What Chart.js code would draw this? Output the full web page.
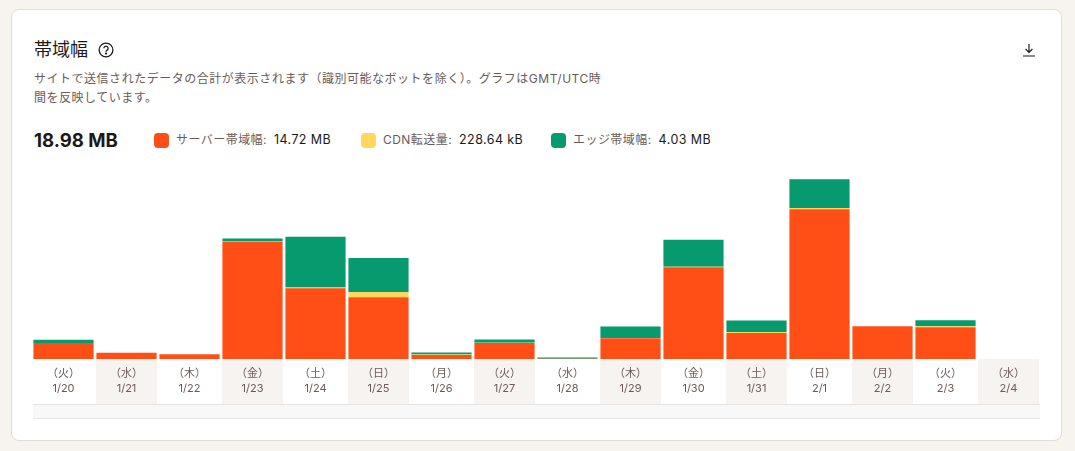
<!DOCTYPE html>
<html lang="ja">
<head>
<meta charset="utf-8">
<title>帯域幅</title>
<script src="https://cdn.jsdelivr.net/npm/chart.js@4"></script>
<style>
    html, body { margin: 0; height: 100%; background: #f7f3ef; overflow: hidden; }
    body { font-family: Inter, "Noto Sans CJK JP", sans-serif; color: #1c1917; }
    .abs { position: absolute; white-space: nowrap; }
    .card { left: 11px; top: 9px; width: 1049px; height: 430px; background: #fff; border: 1px solid #e6ddd4; border-radius: 8px; }
    .title { left: 34px; top: 37px; font-size: 18px; line-height: 26px; }
    .desc { left: 34px; top: 69px; font-size: 12px; line-height: 19px; color: #6b5b58; letter-spacing: 0.52px; }
    .total { left: 34px; top: 128px; font-size: 18.6px; line-height: 24px; font-weight: 700; }
    .legend { top: 130px; font-size: 12px; line-height: 20px; color: #6b5b58; letter-spacing: 0.45px; }
    .legend b { font-size: 12.5px; font-weight: 400; color: #1c1917; margin-left: 7px; letter-spacing: 0.42px; }
    .swatch { top: 133px; width: 15px; height: 15px; border-radius: 4px; }
    .strip { left: 33px; top: 404px; width: 1007px; height: 13px; background: #f8f8f8; border-top: 1px solid #e4e4e4; border-bottom: 1px solid #e8e8e8; }
    .chart-size { position: absolute; left: 32px; top: 159px; width: 1008px; height: 245px; }
</style>
</head>
<body>
<div class="abs card"></div>
<div class="abs title">帯域幅</div>
<svg class="abs" style="left:98px;top:42px" width="16" height="16" viewBox="0 0 16 16" fill="none" stroke="#1c1917" stroke-width="1.3">
    <circle cx="8" cy="8" r="6.9"/>
    <path d="M5.9 6.3a2.1 2.1 0 1 1 3.2 1.8c-.7.4-1.1.8-1.1 1.6"/>
    <circle cx="8" cy="11.6" r=".5" fill="#1c1917"/>
</svg>
<svg class="abs" style="left:1022px;top:43px" width="14" height="14" viewBox="0 0 14 14" fill="none" stroke="#1c1917" stroke-width="1.15">
    <path d="M7 1v8M3.6 6 7 9.4 10.4 6M1 13h12"/>
</svg>
<div class="abs desc">サイトで送信されたデータの合計が表示されます（識別可能なボットを除く）。グラフはGMT/UTC時<br>間を反映しています。</div>
<div class="abs total">18.98 MB</div>
<div class="abs swatch" style="left:154px;background:#ff4f17"></div>
<div class="abs legend" style="left:176px">サーバー帯域幅:<b>14.72 MB</b></div>
<div class="abs swatch" style="left:361px;background:#ffd75c"></div>
<div class="abs legend" style="left:383px">CDN転送量:<b>228.64 kB</b></div>
<div class="abs swatch" style="left:551px;background:#069a6e"></div>
<div class="abs legend" style="left:573px">エッジ帯域幅:<b>4.03 MB</b></div>
<div class="abs strip"></div>
<div class="chart-size"><canvas id="bandwidth"></canvas></div>
<script>
    const weekdays = ['（火）', '（水）', '（木）', '（金）', '（土）', '（日）', '（月）', '（火）', '（水）', '（木）', '（金）', '（土）', '（日）', '（月）', '（火）', '（水）'];
    const dates = ['1/20', '1/21', '1/22', '1/23', '1/24', '1/25', '1/26', '1/27', '1/28', '1/29', '1/30', '1/31', '2/1', '2/2', '2/3', '2/4'];
    // MB per day
    const serverBandwidth = [0.36, 0.14, 0.11, 2.66, 1.60, 1.40, 0.09, 0.36, 0.005, 0.47, 2.08, 0.59, 3.39, 0.74, 0.72, 0];
    const cdnTransfer = [0.005, 0, 0, 0.01, 0.02, 0.12, 0.01, 0.01, 0, 0.005, 0.01, 0.02, 0.03, 0, 0.02, 0];
    const edgeBandwidth = [0.07, 0, 0, 0.06, 1.15, 0.77, 0.05, 0.07, 0.03, 0.26, 0.61, 0.26, 0.65, 0, 0.14, 0];

    // alternate day columns get a tinted background under the tick labels
    const dayBands = {
        id: 'dayBands',
        beforeDraw(chart) {
            const { ctx, scales: { x }, chartArea, height } = chart;
            ctx.save();
            ctx.fillStyle = '#f7f3f0';
            dates.forEach((d, i) => {
                if (i % 2 === 1) {
                    ctx.fillRect(x.getPixelForValue(i) - 30.5, chartArea.bottom, 61, height - chartArea.bottom);
                }
            });
            ctx.restore();
        }
    };

    new Chart(document.getElementById('bandwidth'), {
        type: 'bar',
        data: {
            labels: dates.map((d, i) => [weekdays[i], d]),
            datasets: [
                { label: 'サーバー帯域幅', data: serverBandwidth, backgroundColor: '#ff4f17' },
                { label: 'CDN転送量', data: cdnTransfer, backgroundColor: '#ffd75c' },
                { label: 'エッジ帯域幅', data: edgeBandwidth, backgroundColor: '#069a6e' }
            ]
        },
        options: {
            responsive: true,
            maintainAspectRatio: false,
            animation: false,
            layout: { padding: 0 },
            datasets: { bar: { barPercentage: 0.955, categoryPercentage: 1 } },
            plugins: { legend: { display: false }, tooltip: { enabled: false } },
            scales: {
                x: {
                    stacked: true,
                    grid: { display: false, drawTicks: false },
                    border: { display: false },
                    afterFit(scale) { scale.height = 45; },
                    ticks: {
                        padding: 7,
                        maxRotation: 0,
                        autoSkip: false,
                        color: '#6b5b58',
                        font: { family: 'Inter, "Noto Sans CJK JP", sans-serif', size: 11, lineHeight: 1.4 }
                    }
                },
                y: { stacked: true, display: false, min: 0, max: 4.53 }
            }
        },
        plugins: [dayBands]
    });
</script>
</body>
</html>
